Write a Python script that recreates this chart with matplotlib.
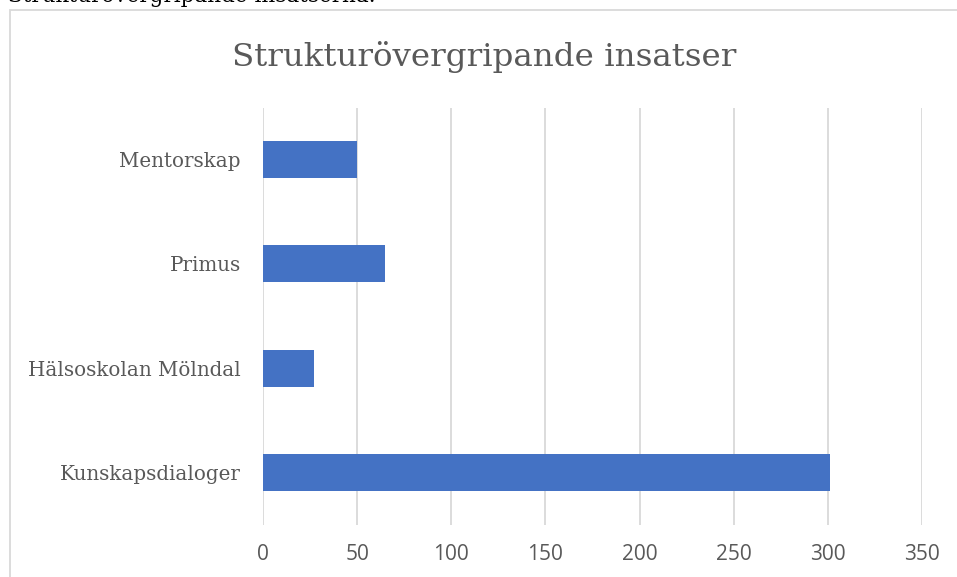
import matplotlib.pyplot as plt
from matplotlib.patches import Rectangle

categories = ['Kunskapsdialoger', 'Hälsoskolan Mölndal', 'Primus', 'Mentorskap']
values = [301, 27, 65, 50]
ticks = [0, 50, 100, 150, 200, 250, 300, 350]

fig = plt.figure(figsize=(9.57, 5.77), dpi=100)
W, H = 957, 577

# ram runt diagrammet
fig.patches.append(Rectangle((10 / W, -0.1), 1.2, 1 - 10 / H + 0.1, transform=fig.transFigure,
                             fill=False, edgecolor='#d9d9d9', linewidth=1.3))

# avskuren text ovanfor diagrammet
fig.text(8 / W, 1 - 2 / H, 'Strukturövergripande insatserna.', family='DejaVu Serif',
         fontsize=15.5, color='black', va='baseline', ha='left')

ax = fig.add_axes([263 / W, 1 - 524.7 / H, (922 - 263) / W, (524.7 - 107.5) / H])
ax.barh(range(len(categories)), values, height=0.355, color='#4472c4', zorder=3)
ax.set_xlim(0, 350)
ax.set_ylim(-0.5, len(categories) - 0.5)
ax.set_xticks(ticks)
ax.set_xticklabels([str(t) for t in ticks], family='Open Sans', fontsize=15, color='#595959')
ax.set_yticks(range(len(categories)))
ax.set_yticklabels(categories, family='DejaVu Serif', fontsize=14.3, color='#595959')
ax.tick_params(length=0)
ax.tick_params(axis='x', pad=14)
ax.tick_params(axis='y', pad=16)
ax.grid(axis='x', color='#d9d9d9', linewidth=1.3, zorder=0)
for s in ax.spines.values():
    s.set_visible(False)

fig.text(484 / W, 1 - 57 / H, 'Strukturövergripande insatser', family='DejaVu Serif',
         fontsize=23.4, color='#595959', ha='center', va='center')

fig.savefig('out.png', dpi=100)
